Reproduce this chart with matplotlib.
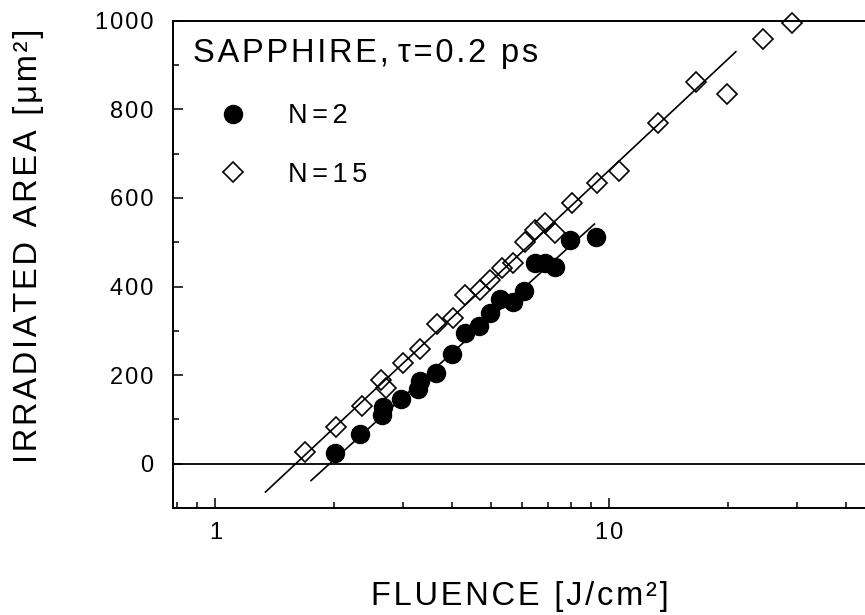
import matplotlib
matplotlib.use("Agg")
import matplotlib.pyplot as plt
from matplotlib.ticker import FixedLocator, LogLocator, NullFormatter, FuncFormatter, MultipleLocator

plt.rcParams['font.family'] = ['Liberation Sans', 'DejaVu Sans']

# N=2 pulses (filled circles)
n2_fluence = [2.01, 2.33, 2.65, 2.67, 2.97, 3.28, 3.31, 3.63, 3.99, 4.31,
              4.68, 4.97, 5.29, 5.69, 6.09, 6.49, 6.88, 7.29, 7.96, 9.27]
n2_area = [25, 68, 110, 129, 146, 168, 186, 205, 248, 295,
           311, 340, 371, 366, 389, 453, 453, 445, 505, 511]

# N=15 pulses (open diamonds)
n15_fluence = [1.69, 2.02, 2.36, 2.64, 2.72, 3.00, 3.31, 3.65, 4.01, 4.31,
               4.70, 4.99, 5.34, 5.71, 6.12, 6.49, 6.88, 7.29, 8.04, 9.30,
               10.6, 13.3, 16.6, 19.9, 24.6, 29.1]
n15_area = [27, 83, 131, 189, 171, 228, 259, 315, 329, 381,
            392, 415, 441, 453, 501, 528, 543, 520, 588, 633,
            661, 768, 862, 834, 959, 995]

# linear fits (end points of the drawn lines)
fit2_fluence = [1.75, 9.18]
fit2_area = [-38, 541]
fit15_fluence = [1.34, 21.0]
fit15_area = [-64, 930]

x_ticks = [1, 10]
y_ticks = [0, 200, 400, 600, 800, 1000]

HS = '\u200a'


def spaced(s, n=1):
    """ spread the letters a bit, like the original plot """
    return (HS * n).join(s)


W, H = 865, 615
fig = plt.figure(figsize=(W / 100, H / 100), dpi=100)
ax = fig.add_axes([172.5 / W, (H - 508) / H, (W - 172.5) / W, (508 - 20.7) / H])

ax.set_xscale('log')
ax.set_xlim(0.778, 44.7)
ax.set_ylim(-100, 1000)

ax.axhline(0, color='black', lw=1.3, zorder=1)

ax.plot(fit15_fluence, fit15_area, color='black', lw=1.2, zorder=2)
ax.plot(fit2_fluence, fit2_area, color='black', lw=1.2, zorder=2)

ax.plot(n2_fluence, n2_area, 'o', color='black', ms=13, mec='black',
        label=spaced('N=2', 2), clip_on=False, zorder=3)
ax.plot(n15_fluence, n15_area, 'D', ms=10.3, mfc='none', mec='black', mew=1.2,
        label=spaced('N=15', 2), clip_on=False, zorder=3)

ax.spines['right'].set_visible(False)
for side in ['left', 'bottom', 'top']:
    ax.spines[side].set_linewidth(1.4)

ax.xaxis.set_major_locator(FixedLocator(x_ticks))
ax.xaxis.set_minor_locator(LogLocator(base=10, subs=[2, 3, 4, 5, 6, 7, 8, 9]))
ax.xaxis.set_minor_formatter(NullFormatter())
ax.xaxis.set_major_formatter(FuncFormatter(lambda v, p: spaced('%d' % v)))
ax.yaxis.set_major_locator(FixedLocator(y_ticks))
ax.yaxis.set_minor_locator(MultipleLocator(100))
ax.yaxis.set_major_formatter(FuncFormatter(lambda v, p: spaced('%d' % v)))

ax.tick_params(which='both', direction='in', top=False, right=False, width=1.1)
ax.tick_params(which='major', length=7.5, labelsize=17)
ax.tick_params(which='minor', length=4.5)
ax.tick_params(axis='y', which='major', pad=14)
ax.tick_params(axis='x', which='major', pad=10)

fig.text(520 / W, 1 - 605 / H, spaced('FLUENCE [J/cm²]'), fontsize=23.5,
         ha='center', va='baseline')
fig.text(29 / W, 1 - 246 / H, spaced('IRRADIATED AREA [μm²]'), fontsize=23.5,
         rotation=90, ha='center', va='center')

fig.text(193 / W, 1 - 62 / H, spaced('SAPPHIRE,') + ' ' + spaced('τ=0.2 ps'),
         fontsize=23.5, ha='left', va='baseline')

ax.legend(loc='upper left',
          bbox_to_anchor=((219.5 - 172.5) / (W - 172.5), (508 - 103) / (508 - 20.7)),
          frameon=False, fontsize=19.5, numpoints=1, handlelength=1.0,
          handletextpad=1.54, labelspacing=1.2, borderpad=0, borderaxespad=0)

fig.savefig('out.png', dpi=100)
